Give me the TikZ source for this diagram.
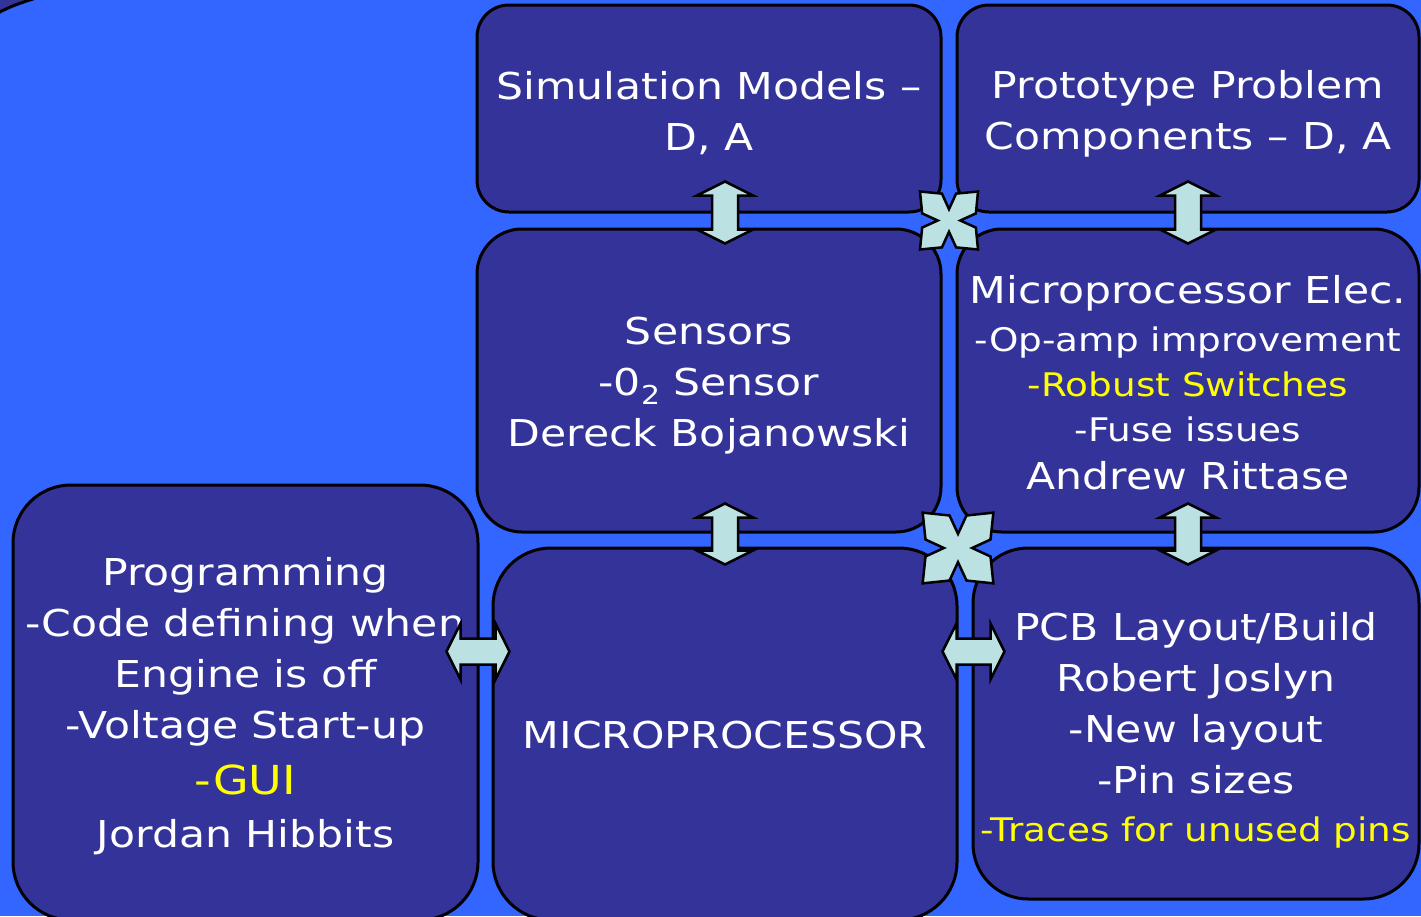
\documentclass[tikz,border=0pt]{standalone}
\usepackage{fontspec}
\setmainfont{DejaVu Sans}[FakeStretch=1.15]
\usetikzlibrary{calc}
\definecolor{bgblue}{RGB}{51,102,255}
\definecolor{boxblue}{RGB}{51,51,153}
\definecolor{arrowcyan}{RGB}{187,225,227}
\definecolor{hiyellow}{RGB}{255,255,0}
\tikzset{
  panel/.style={draw=black, line width=3pt, fill=boxblue, inner sep=0pt},
  paneltext/.style={text=white, align=center, inner sep=0pt, font=\fontsize{37}{51}\selectfont},
  blockarrow/.style={draw=black, line width=2.5pt, fill=arrowcyan, line join=miter},
}
\newcommand\smalltext{\fontsize{32.5}{45}\selectfont}
\newcommand\vblock[2]{%
  \draw[blockarrow] let \p1=(#1), \p2=(#2) in
    (\x1,\y1) -- (\x1+28pt,\y1-14pt) -- (\x1+13pt,\y1-14pt) -- (\x1+13pt,\y2+14pt)
    -- (\x1+28pt,\y2+14pt) -- (\x1,\y2) -- (\x1-28pt,\y2+14pt) -- (\x1-13pt,\y2+14pt)
    -- (\x1-13pt,\y1-14pt) -- (\x1-28pt,\y1-14pt) -- cycle;}
\newcommand\hblock[2]{%
  \draw[blockarrow] let \p1=(#1), \p2=(#2) in
    (\x1,\y1) -- (\x1+14pt,\y1+28pt) -- (\x1+14pt,\y1+13pt) -- (\x2-14pt,\y1+13pt)
    -- (\x2-14pt,\y1+28pt) -- (\x2,\y1) -- (\x2-14pt,\y1-28pt) -- (\x2-14pt,\y1-13pt)
    -- (\x1+14pt,\y1-13pt) -- (\x1+14pt,\y1-28pt) -- cycle;}
% #1 centre, #2 tip distance, #3 notch, #4 barb half width, #5 barb distance
\newcommand\xcross[5]{%
  \begin{scope}[shift={(#1)}, rotate=45]
    \draw[blockarrow] (#3,-#3) -- (#5,-#4) -- (#2,0) -- (#5,#4)
      -- (#3,#3) -- (#4,#5) -- (0,#2) -- (-#4,#5)
      -- (-#3,#3) -- (-#5,#4) -- (-#2,0) -- (-#5,-#4)
      -- (-#3,-#3) -- (-#4,-#5) -- (0,-#2) -- (#4,-#5) -- cycle;
  \end{scope}}
\begin{document}
\begin{tikzpicture}[x=1pt,y=-1pt]
  \useasboundingbox (0,0) rectangle (1421,916);
  \clip (0,0) rectangle (1421,916);
  \fill[bgblue] (0,0) rectangle (1421,916);
  % corner of a shape off the top left
  \draw[fill=boxblue, line width=3pt] (-10,-10) -- (-10,16) -- (-2,13)
    .. controls (10,6.5) and (20,3) .. (33,-1) -- (40,-10) -- cycle;

  % boxes
  \node[panel, minimum width=464pt, minimum height=207pt, rounded corners=32pt]
    (sim) at (709,108.5) {};
  \node[panel, minimum width=462pt, minimum height=207pt, rounded corners=32pt]
    (proto) at (1188,108.5) {};
  \node[panel, minimum width=464pt, minimum height=303pt, rounded corners=45pt]
    (sens) at (709,380.5) {};
  \node[panel, minimum width=462pt, minimum height=303pt, rounded corners=45pt]
    (mpe) at (1188,380.5) {};
  \node[panel, minimum width=465pt, minimum height=435pt, rounded corners=58pt]
    (prog) at (245.5,702.5) {};
  \node[panel, minimum width=464pt, minimum height=372pt, rounded corners=58pt]
    (micro) at (725,734) {};
  \node[panel, minimum width=446pt, minimum height=351pt, rounded corners=55pt]
    (pcb) at (1196,723.5) {};

  % texts
  \node[paneltext] (simT) at ($(sim.center)+(0,5)$) {Simulation Models –\\D, A};
  \node[paneltext] (protoT) at ($(proto.center)+(0,5)$) {Prototype Problem\\Components – D, A};
  \node[paneltext] (sensT) at ($(sens.center)+(0,5)$)
    {Sensors\\-0\raisebox{-9pt}{\fontsize{26}{26}\selectfont 2} Sensor\\Dereck Bojanowski};
  \node[paneltext] (mpeT) at ($(mpe.center)+(0,2)$) {Microprocessor Elec.\\[-3pt]
      {\smalltext -Op-amp improvement}\\[-6pt]
      {\smalltext\color{hiyellow} -Robust Switches}\\[-6pt]
      {\smalltext -Fuse issues}\\[-3pt]
      Andrew Rittase};
  \node[paneltext] (progT) at ($(prog.center)+(0,4)$) {Programming\\-Code defining when\\Engine is off\\
      -Voltage Start-up\\[5pt]
      {\fontsize{40}{51}\selectfont\color{hiyellow} -GUI}\\[2pt]
      Jordan Hibbits};
  \node[paneltext] (microT) at ($(micro.center)+(0,1)$) {MICROPROCESSOR};
  \node[paneltext] (pcbT) at ($(pcb.center)+(0,6.5)$)
    {PCB Layout/Build\\Robert Joslyn\\-New layout\\-Pin sizes\\[-3pt]
      {\smalltext\color{hiyellow} -Traces for unused pins}};

  % connector end points taken from the boxes
  \coordinate (a1) at ($(sim.south)+(16,-32)$);
  \coordinate (a2) at ($(sens.north)+(16,16)$);
  \coordinate (b1) at ($(proto.south)+(0,-32)$);
  \coordinate (b2) at ($(mpe.north)+(0,16)$);
  \coordinate (c1) at ($(sens.south)+(16,-30)$);
  \coordinate (c2) at ($(micro.north)+(0,18)$);
  \coordinate (d1) at ($(mpe.south)+(0,-30)$);
  \coordinate (d2) at ($(pcb.north)+(-8,18)$);
  \coordinate (e1) at ($(prog.north east)+(-33,168)$);
  \coordinate (e2) at ($(micro.north west)+(18,105)$);
  \coordinate (f1) at ($(micro.north east)+(-16,105)$);
  \coordinate (f2) at ($(pcb.north west)+(33,105)$);
  \coordinate (x1c) at ($(sim.south east)!0.5!(mpe.north west)$);
  \coordinate (x2c) at ($(sens.south east)!0.5!(pcb.north west)+(1,8)$);

  \vblock{a1}{a2}
  \vblock{b1}{b2}
  \vblock{c1}{c2}
  \vblock{d1}{d2}
  \hblock{e1}{e2}
  \hblock{f1}{f2}
  \xcross{x1c}{41}{8}{14}{24}
  \xcross{x2c}{50}{10}{17}{29}
\end{tikzpicture}
\end{document}
